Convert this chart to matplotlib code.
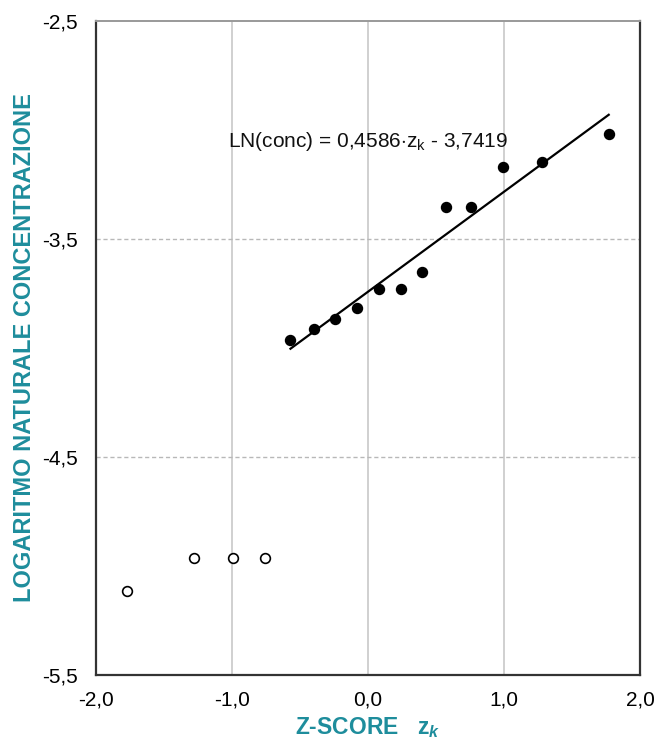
import matplotlib
matplotlib.use("Agg")
import matplotlib.pyplot as plt
import numpy as np

# Data
z_fit = [-0.57, -0.40, -0.24, -0.08, 0.08, 0.24, 0.40, 0.57, 0.76, 0.99, 1.28, 1.77]
ln_fit = [-3.963, -3.911, -3.866, -3.818, -3.731, -3.731, -3.651, -3.355, -3.355, -3.171, -3.148, -3.018]
z_out = [-1.77, -1.28, -0.99, -0.76]
ln_out = [-5.115, -4.962, -4.962, -4.962]
slope = 0.4586
intercept = -3.7419
x_ticks = [-2.0, -1.0, 0.0, 1.0, 2.0]
y_ticks = [-5.5, -4.5, -3.5, -2.5]

plt.rcParams['font.family'] = ['Liberation Sans', 'DejaVu Sans']
plt.rcParams['mathtext.fontset'] = 'custom'
plt.rcParams['mathtext.rm'] = 'Liberation Sans'
plt.rcParams['mathtext.it'] = 'Liberation Sans:italic'
plt.rcParams['mathtext.bf'] = 'Liberation Sans:bold'
plt.rcParams['mathtext.bfit'] = 'Liberation Sans:bold:italic'
teal = '#1e8d9c'

fig = plt.figure(figsize=(6.56, 7.42), dpi=100)
ax = fig.add_axes([96/656, 1-675/742, (640-96)/656, (675-21)/742])

ax.set_xlim(-2, 2)
ax.set_ylim(-5.5, -2.5)
ax.set_xticks(x_ticks)
ax.set_yticks(y_ticks)
ax.set_xticklabels([f"{v:.1f}".replace('.', ',') for v in x_ticks], fontsize=15)
ax.set_yticklabels([f"{v:.1f}".replace('.', ',') for v in y_ticks], fontsize=15)
ax.tick_params(axis='y', length=0, pad=13)
ax.tick_params(axis='x', length=0, pad=11)

# gridlines
for xv in [-1.0, 0.0, 1.0]:
    ax.axvline(xv, color='#c4c4c4', lw=1.1, zorder=0)
for yv in [-4.5, -3.5]:
    ax.axhline(yv, color='#b8b8b8', lw=1.0, ls=(0, (3, 2)), zorder=0)

for s in ['left', 'bottom', 'right']:
    ax.spines[s].set_color('#333333')
    ax.spines[s].set_linewidth(1.6)
ax.spines['top'].set_color('#999999')
ax.spines['top'].set_linewidth(1.4)

# regression line
xl = np.array([min(z_fit), max(z_fit)])
ax.plot(xl, slope * xl + intercept, color='black', lw=1.6, zorder=2)

ax.plot(z_fit, ln_fit, 'o', color='black', ms=7.2, zorder=3)
ax.plot(z_out, ln_out, 'o', mfc='white', mec='black', mew=1.2, ms=7, zorder=3)

ax.text(-1.03, -3.055, r'LN(conc) = 0,4586$\cdot$z$_\mathregular{k}$ - 3,7419',
        fontsize=15, ha='left', va='center', color='#111111')

fig.text(25/656, 1-348/742, 'LOGARITMO NATURALE CONCENTRAZIONE', rotation=90,
         color=teal, fontsize=17, fontweight='bold', family='Liberation Sans',
         ha='center', va='center')
fig.text(368/656, 1-728/742, r'Z-SCORE   z$_{\mathbfit{k}}$', color=teal, fontsize=16.5,
         fontweight='bold', family='Liberation Sans', ha='center', va='center')

fig.savefig('out.png', dpi=100)
